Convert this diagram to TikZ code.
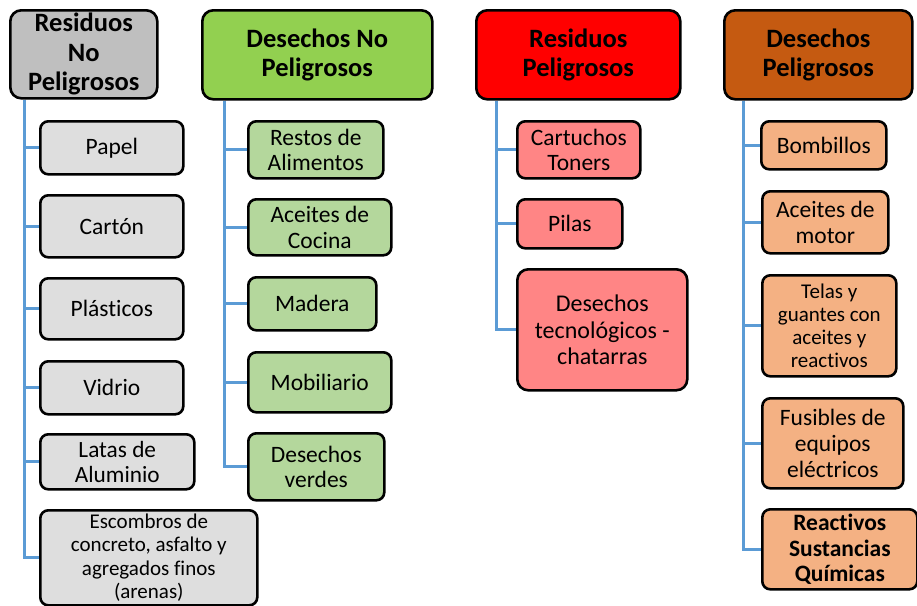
\documentclass[tikz,border=0pt]{standalone}
\usepackage{fontspec}
\setmainfont{Carlito}[RawFeature={-liga;-clig;-calt;-dlig}]
\usetikzlibrary{backgrounds}
\definecolor{hgray}{HTML}{BFBFBF}
\definecolor{hgreen}{HTML}{92D050}
\definecolor{hred}{HTML}{FF0000}
\definecolor{hbrown}{HTML}{C55A11}
\definecolor{kgray}{HTML}{DEDEDE}
\definecolor{kgreen}{HTML}{B4D79C}
\definecolor{kred}{HTML}{FF8585}
\definecolor{korange}{HTML}{F4B183}
\definecolor{connblue}{HTML}{5B9BD5}
\tikzset{
  box/.style={draw=black, line width=2.6pt, rounded corners=8pt, align=center, inner sep=0pt, anchor=north west, text=black},
  head/.style={box, rounded corners=11pt, font=\bfseries\fontsize{26.5}{29.5}\selectfont},
  kid/.style={box, font=\fontsize{23.5}{25.5}\selectfont},
  kidsmall/.style={box, font=\fontsize{21}{23.3}\selectfont},
  conn/.style={draw=connblue, line width=3pt},
}
\begin{document}
\begin{tikzpicture}[x=1pt,y=-1pt]
\useasboundingbox (0,0) rectangle (917,605);
% headers
\node[head, fill=hgray, minimum width=147pt, minimum height=88pt] (h1) at (9,9) {Residuos\\No\\Peligrosos};
\node[head, fill=hgreen, minimum width=230pt, minimum height=89pt] (h2) at (201,9) {Desechos No\\Peligrosos};
\node[head, fill=hred, minimum width=204pt, minimum height=89pt] (h3) at (475,9) {Residuos\\Peligrosos};
\node[head, fill=hbrown, minimum width=188pt, minimum height=89pt] (h4) at (723,9) {Desechos\\Peligrosos};
% column 1
\node[kid, fill=kgray, minimum width=143pt, minimum height=53pt] (a1) at (39,120) {Papel};
\node[kid, fill=kgray, minimum width=143pt, minimum height=62pt] (a2) at (39,194) {Cartón};
\node[kid, fill=kgray, minimum width=143pt, minimum height=61pt] (a3) at (39,277) {Plásticos};
\node[kid, fill=kgray, minimum width=143pt, minimum height=53pt] (a4) at (39,360) {Vidrio};
\node[kid, fill=kgray, minimum width=154pt, minimum height=55pt, font=\fontsize{23.3}{24.5}\selectfont] (a5) at (39,433) {Latas de\\Aluminio};
\node[kidsmall, fill=kgray, minimum width=217pt, minimum height=95pt] (a6) at (39,509) {Escombros de\\concreto, asfalto y\\agregados finos\\(arenas)};
% column 2
\node[kid, fill=kgreen, minimum width=135pt, minimum height=57pt] (b1) at (247,120) {Restos de\\Alimentos};
\node[kid, fill=kgreen, minimum width=143pt, minimum height=56pt] (b2) at (247,198) {Aceites de\\Cocina};
\node[kid, fill=kgreen, minimum width=128pt, minimum height=53pt] (b3) at (247,276) {Madera};
\node[kid, fill=kgreen, minimum width=143pt, minimum height=60pt] (b4) at (247,351) {Mobiliario};
\node[kid, fill=kgreen, minimum width=136pt, minimum height=67pt] (b5) at (247,432) {Desechos\\verdes};
% column 3
\node[kid, fill=kred, minimum width=123pt, minimum height=57pt] (c1) at (516,120) {Cartuchos\\Toners};
\node[kid, fill=kred, minimum width=105pt, minimum height=49pt] (c2) at (516,198) {Pilas};
\node[kid, fill=kred, minimum width=170pt, minimum height=121pt, rounded corners=11pt, font=\fontsize{24}{26.5}\selectfont] (c3) at (516,268) {Desechos\\tecnológicos -\\chatarras};
% column 4
\node[kid, fill=korange, minimum width=125pt, minimum height=48pt] (d1) at (760,120) {Bombillos};
\node[kid, fill=korange, minimum width=126pt, minimum height=62pt] (d2) at (761,190) {Aceites de\\motor};
\node[kidsmall, fill=korange, minimum width=134pt, minimum height=101pt] (d3) at (761,274) {Telas y\\guantes con\\aceites y\\reactivos};
\node[kid, fill=korange, minimum width=141pt, minimum height=90pt, font=\fontsize{23.5}{26}\selectfont] (d4) at (761,397) {Fusibles de\\equipos\\eléctricos};
\node[kid, fill=korange, minimum width=155pt, minimum height=80pt, font=\bfseries\fontsize{23.5}{25.5}\selectfont] (d5) at (761,508) {Reactivos\\Sustancias\\Químicas};
% connectors
\begin{scope}[on background layer]
\foreach \k in {a1,a2,a3,a4,a5,a6} \draw[conn] ([xshift=15pt]h1.south west) |- (\k.west);
\foreach \k in {b1,b2,b3,b4,b5} \draw[conn] ([xshift=23pt]h2.south west) |- (\k.west);
\foreach \k in {c1,c2,c3} \draw[conn] ([xshift=21pt]h3.south west) |- (\k.west);
\foreach \k in {d1,d2,d3,d4,d5} \draw[conn] ([xshift=20pt]h4.south west) |- (\k.west);
\end{scope}
\end{tikzpicture}
\end{document}
